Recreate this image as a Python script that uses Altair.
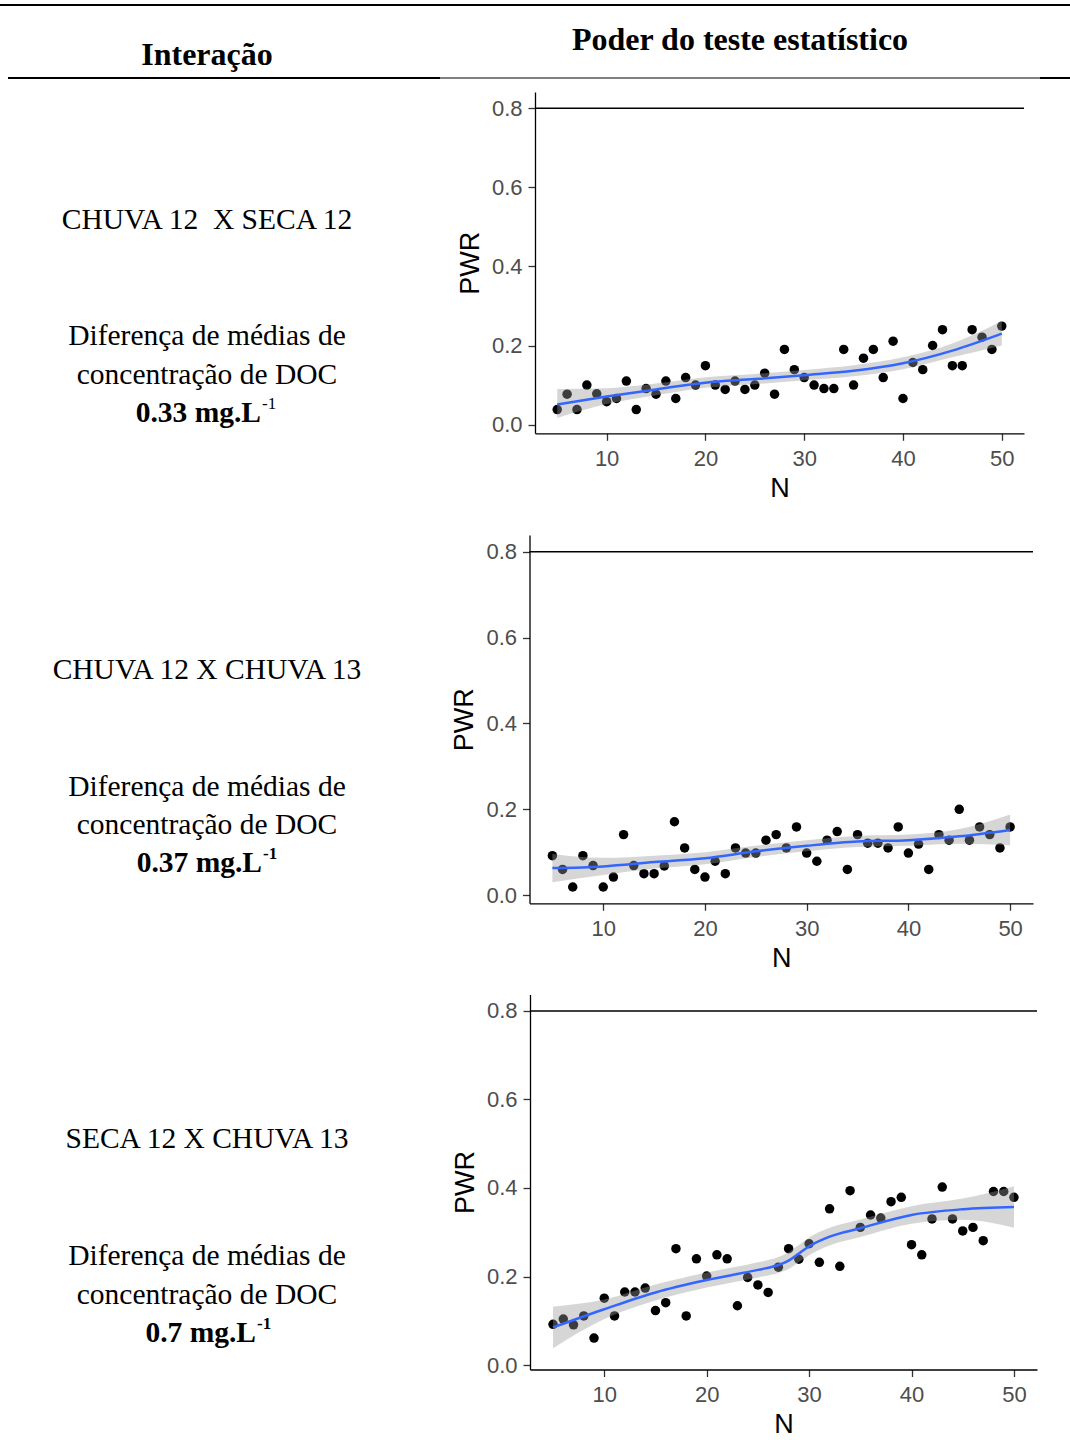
import altair as alt
import pandas as pd

W, H = 1070, 1456

# ---------------- data ----------------
n_vals = list(range(5, 51))

pwr_1 = [0.038, 0.077, 0.038, 0.100, 0.078, 0.058, 0.066, 0.110, 0.038, 0.091,
         0.077, 0.110, 0.066, 0.119, 0.100, 0.149, 0.100, 0.089, 0.110, 0.089,
         0.100, 0.130, 0.077, 0.190, 0.139, 0.119, 0.100, 0.091, 0.091, 0.190,
         0.100, 0.168, 0.190, 0.119, 0.211, 0.066, 0.157, 0.139, 0.200, 0.240,
         0.149, 0.149, 0.240, 0.221, 0.190, 0.249]
pwr_2 = [0.092, 0.060, 0.019, 0.092, 0.069, 0.019, 0.042, 0.141, 0.069, 0.050,
         0.050, 0.068, 0.171, 0.110, 0.060, 0.042, 0.079, 0.050, 0.110, 0.098,
         0.098, 0.128, 0.141, 0.110, 0.159, 0.098, 0.079, 0.128, 0.148, 0.060,
         0.141, 0.121, 0.121, 0.110, 0.159, 0.098, 0.119, 0.060, 0.141, 0.128,
         0.200, 0.128, 0.159, 0.141, 0.110, 0.159]
pwr_3 = [0.092, 0.104, 0.091, 0.111, 0.061, 0.151, 0.111, 0.165, 0.165, 0.174,
         0.123, 0.141, 0.263, 0.111, 0.240, 0.201, 0.249, 0.240, 0.134, 0.198,
         0.181, 0.164, 0.221, 0.263, 0.239, 0.274, 0.232, 0.353, 0.223, 0.394,
         0.311, 0.339, 0.332, 0.369, 0.379, 0.272, 0.249, 0.330, 0.402, 0.330,
         0.303, 0.311, 0.281, 0.392, 0.392, 0.379]

# smoothed fit with its confidence band
fit_n_1 = [5, 10, 15, 20, 25, 30, 35, 40, 45, 50]
fit_1 = [0.051, 0.071, 0.089, 0.106, 0.115, 0.125, 0.136, 0.155, 0.187, 0.230]
lo_1 = [0.017, 0.052, 0.074, 0.093, 0.102, 0.112, 0.122, 0.140, 0.170, 0.200]
hi_1 = [0.090, 0.092, 0.104, 0.120, 0.128, 0.138, 0.150, 0.170, 0.205, 0.262]

fit_n_2 = [5, 10, 15, 20, 25, 30, 35, 40, 45, 50]
fit_2 = [0.063, 0.067, 0.077, 0.086, 0.102, 0.115, 0.125, 0.128, 0.137, 0.152]
lo_2 = [0.030, 0.047, 0.062, 0.072, 0.089, 0.102, 0.112, 0.115, 0.120, 0.116]
hi_2 = [0.096, 0.087, 0.092, 0.100, 0.115, 0.128, 0.138, 0.141, 0.154, 0.188]

fit_n_3 = [5, 10, 15, 20, 25, 27, 28, 29, 30, 32, 35, 40, 45, 50]
fit_3 = [0.085, 0.126, 0.164, 0.192, 0.215, 0.226, 0.236, 0.252, 0.268, 0.290, 0.309, 0.339, 0.352, 0.357]
lo_3 = [0.038, 0.104, 0.146, 0.175, 0.198, 0.208, 0.217, 0.233, 0.248, 0.270, 0.289, 0.319, 0.328, 0.310]
hi_3 = [0.132, 0.148, 0.182, 0.209, 0.232, 0.244, 0.255, 0.271, 0.288, 0.310, 0.329, 0.359, 0.376, 0.404]

threshold = 0.8

y_ticks = [0.0, 0.2, 0.4, 0.6, 0.8]
x_ticks = [10, 20, 30, 40, 50]

interactions = ["CHUVA 12\u00a0 X SECA 12", "CHUVA 12 X CHUVA 13", "SECA 12 X CHUVA 13"]
diff_values = ["0.33 mg.L", "0.37 mg.L", "0.7 mg.L"]

# ---------------- helpers ----------------
SANS = "Liberation Sans"
SERIF = "Liberation Serif"


def panel(pwr, fit_n, fit, lo, hi, x_range, y_range, y_domain):
    x_dom = [2.75, 52.25]
    xs = alt.Scale(domain=x_dom, range=x_range, nice=False, zero=False)
    ys = alt.Scale(domain=y_domain, range=y_range, nice=False, zero=False)
    common = dict(grid=False, domainColor="black", domainWidth=1.3,
                  tickColor="#333333", tickSize=7, tickWidth=1.3,
                  labelColor="#4D4D4D", labelFont=SANS, labelFontSize=22,
                  titleFont=SANS, titleFontSize=27, titleFontWeight="normal",
                  titleColor="black")
    xaxis = alt.Axis(orient="bottom", offset=y_range[0] - H, values=x_ticks,
                     title="N", labelPadding=8, titlePadding=6, **common)
    yaxis = alt.Axis(orient="left", offset=-x_range[0], values=y_ticks, format=".1f",
                     title="PWR", labelPadding=6, titlePadding=7, **common)

    pts = pd.DataFrame({"N": n_vals, "PWR": pwr})
    fdf = pd.DataFrame({"N": fit_n, "fit": fit, "lo": lo, "hi": hi})
    hdf = pd.DataFrame({"x0": [x_dom[0]], "x1": [x_dom[1]], "y": [threshold]})

    X = lambda f: alt.X(f, type="quantitative", scale=xs, axis=xaxis)
    Y = lambda f: alt.Y(f, type="quantitative", scale=ys, axis=yaxis)

    points = alt.Chart(pts).mark_circle(size=90, color="black", opacity=1).encode(
        x=X("N"), y=Y("PWR"))
    band = alt.Chart(fdf).mark_area(color="#999999", opacity=0.4,
                                    interpolate="monotone").encode(
        x=X("N"), y=Y("lo"), y2="hi:Q")
    line = alt.Chart(fdf).mark_line(color="#3366FF", strokeWidth=2.5,
                                    interpolate="monotone").encode(
        x=X("N"), y=Y("fit"))
    hline = alt.Chart(hdf).mark_rule(color="black", strokeWidth=1.5).encode(
        x=X("x0"), x2="x1:Q", y=Y("y"))
    return alt.layer(points, band, line, hline)


dummy = pd.DataFrame({"d": [0]})


def txt(label, x, y, size=29.5, weight="normal", align="center", font=SERIF):
    return alt.Chart(dummy).mark_text(
        text=label, font=font, fontSize=size, fontWeight=weight, align=align,
        baseline="middle", color="black").encode(x=alt.value(x), y=alt.value(y))


def hrule(x0, x1, y, w):
    return alt.Chart(dummy).mark_rule(color="black", strokeWidth=w).encode(
        x=alt.value(x0), x2=alt.value(x1), y=alt.value(y))


p1 = panel(pwr_1, fit_n_1, fit_1, lo_1, hi_1, [535, 1024], [433.3, 92], [-0.022, 0.841])
p2 = panel(pwr_2, fit_n_2, fit_2, lo_2, hi_2, [529.5, 1033], [903.3, 535], [-0.019, 0.839])
p3 = panel(pwr_3, fit_n_3, fit_3, lo_3, hi_3, [530, 1037], [1369.5, 994.5], [-0.010, 0.837])

texts = [
    hrule(0, 1070, 5, 2),
    hrule(8, 440, 78, 2),
    hrule(440, 1040, 78, 1),
    hrule(1040, 1070, 78, 2),
    txt("Interação", 207, 55, size=32, weight="bold"),
    txt("Poder do teste estatístico", 740, 40, size=32, weight="bold"),
]
row_y = [(220, 336, 375, 413), (670, 787, 825, 863), (1139, 1256, 1295, 1333)]
sup_x = [261, 262, 256]
for i, (ya, yb, yc, yd) in enumerate(row_y):
    texts.append(txt(interactions[i], 207, ya))
    texts.append(txt("Diferença de médias de", 207, yb))
    texts.append(txt("concentração de DOC", 207, yc))
    texts.append(txt(diff_values[i], sup_x[i], yd, weight="bold", align="right"))
    texts.append(txt("-1", sup_x[i] + 1, yd - 9, size=17,
                     weight="normal" if i == 0 else "bold", align="left"))

chart = alt.layer(p1, p2, p3, *texts).resolve_scale(
    x="independent", y="independent").resolve_axis(
    x="independent", y="independent").properties(
    width=W, height=H, padding=0,
    autosize=alt.AutoSizeParams(type="none")).configure_view(stroke=None)

chart.save("out.html", embed_options={"renderer": "svg", "actions": False})
